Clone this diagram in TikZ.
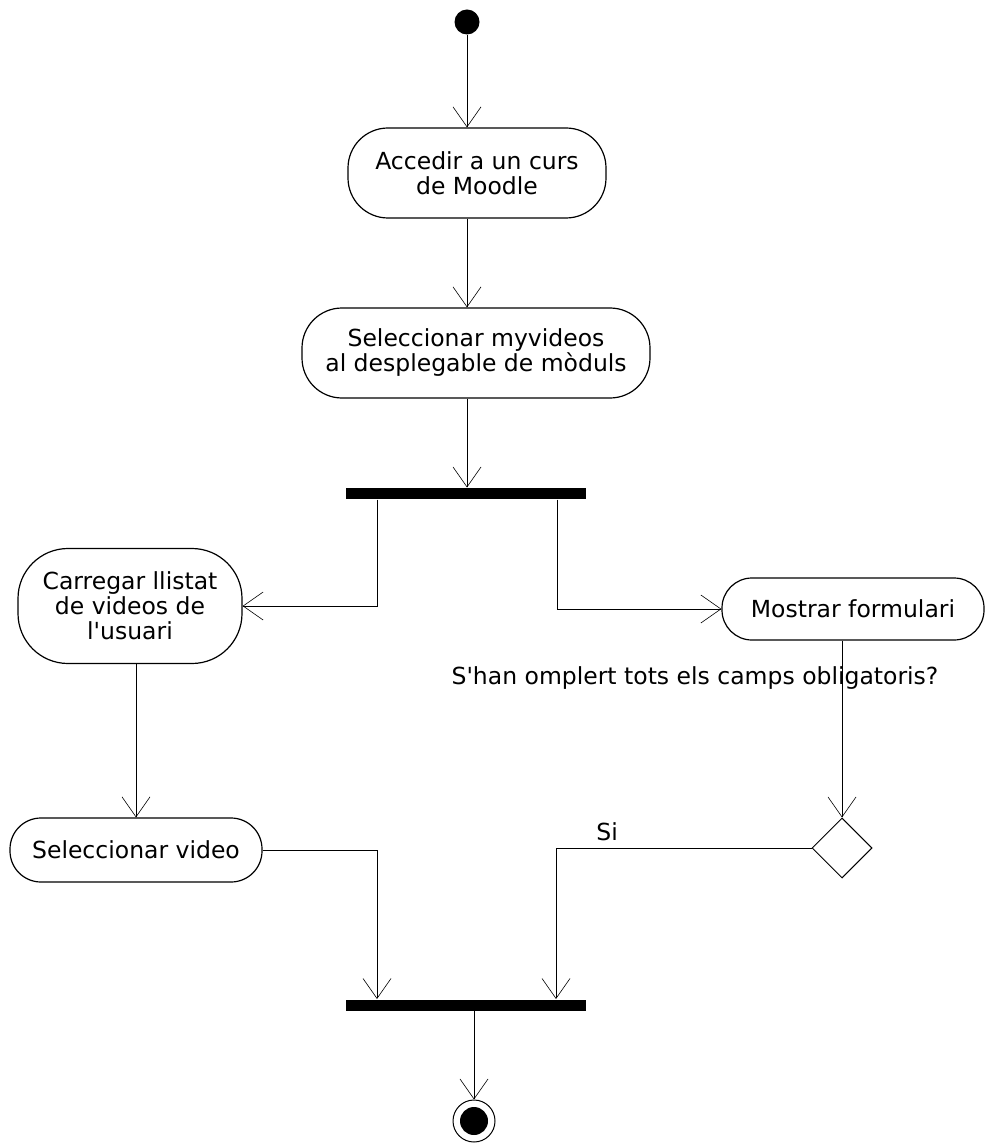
\documentclass[tikz,border=0pt]{standalone}
\usepackage{fontspec}
\setmainfont{DejaVu Sans}
\usetikzlibrary{arrows.meta,shapes.geometric}

\begin{document}
\begin{tikzpicture}[x=1pt, y=-1pt, line width=1pt,
    font=\fontsize{23.5}{25}\selectfont,
    accio/.style={draw, line width=1.2pt, align=center, inner sep=0pt},
    barra/.style={fill=black, inner sep=0pt, minimum width=240pt, minimum height=11pt},
    fletxa/.style={-{Straight Barb[length=20pt, width=28pt, line width=0.6pt]}}]
  \useasboundingbox (0,0) rectangle (984,1147);
  % nodes
  \node [circle, fill=black, minimum size=25pt, inner sep=0pt] (inici) at (467,22) {};
  \node [accio, minimum width=258pt, minimum height=90pt, rounded corners=40pt]
        (accedir) at (477,173) {Accedir a un curs\\de Moodle};
  \node [accio, minimum width=348pt, minimum height=90pt, rounded corners=40pt]
        (modul) at (476,353) {Seleccionar myvideos\\al desplegable de mòduls};
  \node [barra] (fork) at (466,493.5) {};
  \node [accio, minimum width=224pt, minimum height=115pt, rounded corners=50pt]
        (carregar) at (130,606) {Carregar llistat\\de videos de\\l\textquotesingle usuari};
  \node [accio, minimum width=262pt, minimum height=62pt, rounded corners=30pt]
        (mostrar) at (853,609) {Mostrar formulari};
  \node (pregunta) at (695,678) {S\textquotesingle han omplert tots els camps obligatoris?};
  \node [diamond, draw, minimum width=60pt, minimum height=60pt, inner sep=0pt]
        (decisio) at (842,848) {};
  \node [accio, minimum width=252pt, minimum height=64pt, rounded corners=31pt]
        (video) at (136,850) {Seleccionar video};
  \node [barra] (join) at (466,1005) {};
  \node [circle, draw, minimum size=42pt, inner sep=0pt] (final) at (474,1121) {};
  \fill (final.center) circle (14pt);
  % fletxes
  \draw [fletxa] (inici) -- (inici |- accedir.north);
  \draw [fletxa] (inici |- accedir.south) -- (inici |- modul.north);
  \draw [fletxa] (inici |- modul.south) -- (inici |- fork.north);
  \draw [fletxa] ([xshift=-89pt]fork.south) |- (carregar.east);
  \draw [fletxa] ([xshift=91pt]fork.south) |- (mostrar.west);
  \draw [fletxa] (decisio |- mostrar.south) -- (decisio.north);
  \draw [fletxa] (decisio.west) -| ([xshift=90pt]join.north)
        node [pos=0.4, above=3pt] {Si};
  \draw [fletxa] (video |- carregar.south) -- (video.north);
  \draw [fletxa] (video.east) -| ([xshift=-89pt]join.north);
  \draw [fletxa] (final |- join.south) -- (final.north);
\end{tikzpicture}
\end{document}
